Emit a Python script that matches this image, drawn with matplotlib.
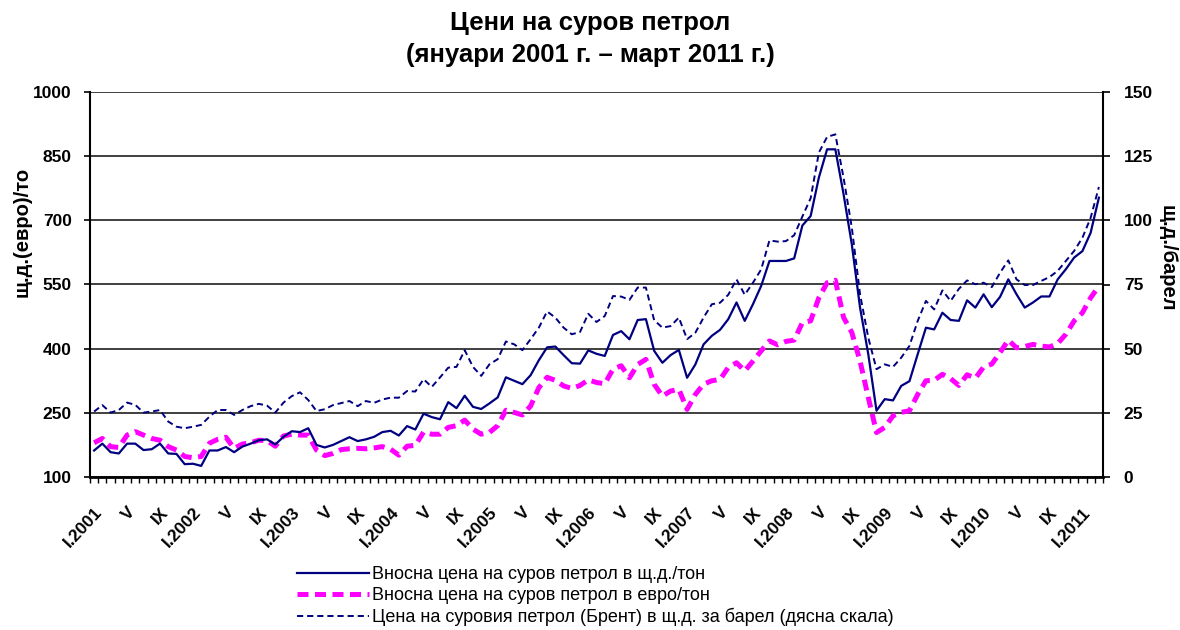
"""Crude oil prices, Jan 2001 - Mar 2011 (USD/t, EUR/t, Brent USD/bbl)."""
import matplotlib

matplotlib.use("Agg")

import matplotlib.pyplot as plt
import numpy as np

# import price of crude oil, USD per ton (monthly, Jan 2001 .. Mar 2011)
usd_ton = [
    162, 178, 158, 155, 178, 178, 163, 165, 178, 155, 154, 130,
    131, 126, 162, 162, 170, 158, 171, 178, 186, 188, 176, 194,
    207, 205, 214, 175, 169, 175, 184, 193, 184, 188, 194, 205,
    208, 197, 219, 211, 248, 240, 235, 275, 261, 290, 264, 259,
    272, 286, 333, 325, 317, 338, 373, 403, 405, 385, 366, 365,
    396, 388, 383, 432, 441, 422, 467, 469, 395, 367, 385, 397,
    332, 363, 410, 430, 444, 469, 508, 465, 504, 547, 605, 605,
    605, 611, 688, 710, 800, 866, 866, 761, 644, 496, 387, 255,
    282, 279, 313, 324, 387, 449, 445, 484, 467, 465, 513, 496,
    527, 497, 521, 562, 527, 496, 508, 522, 522, 562, 586, 613,
    628, 671, 753,
]

# import price of crude oil, EUR per ton
eur_ton = [
    180, 190, 171, 169, 198, 206, 198, 190, 186, 171, 163, 148,
    145, 148, 179, 188, 193, 167, 177, 180, 186, 185, 172, 196,
    200, 198, 198, 163, 150, 155, 164, 166, 167, 166, 168, 171,
    165, 151, 172, 174, 205, 200, 200, 216, 220, 233, 212, 200,
    204, 220, 256, 251, 245, 266, 309, 333, 326, 313, 307, 314,
    327, 321, 318, 352, 360, 332, 363, 375, 317, 289, 301, 305,
    258, 293, 317, 325, 328, 356, 367, 348, 371, 395, 418, 409,
    417, 420, 461, 465, 519, 554, 560, 473, 438, 371, 286, 204,
    216, 243, 251, 255, 293, 325, 326, 340, 330, 314, 339, 331,
    357, 364, 391, 420, 402, 405, 410, 406, 404, 412, 434, 465,
    484, 519, 546,
]

# Brent, USD per barrel (right scale)
brent_bbl = [
    25.5, 28.0, 25.1, 26.1, 29.0, 28.1, 25.1, 25.5, 26.1, 21.6, 19.6, 19.0,
    19.6, 20.3, 23.5, 26.1, 26.1, 24.2, 26.1, 27.6, 28.5, 27.8, 25.1, 29.0,
    31.5, 33.0, 30.0, 25.7, 26.4, 28.0, 28.8, 29.6, 27.6, 29.6, 28.9, 30.2,
    30.9, 30.9, 33.5, 33.3, 38.1, 35.1, 38.8, 42.6, 42.9, 49.4, 42.9, 39.4,
    43.9, 45.9, 52.8, 51.7, 49.4, 53.7, 58.2, 64.5, 62.1, 58.2, 55.6, 56.5,
    63.6, 60.4, 62.7, 70.5, 70.3, 69.0, 73.8, 73.8, 61.1, 58.2, 58.8, 62.1,
    53.7, 56.2, 62.1, 67.3, 67.9, 71.0, 77.0, 71.0, 75.7, 80.9, 92.2, 91.7,
    91.9, 94.2, 101.5, 108.6, 126.4, 132.5, 133.5, 116.6, 97.2, 71.2, 54.3, 42.0,
    43.9, 42.9, 46.5, 51.1, 60.8, 68.6, 65.3, 72.7, 68.6, 73.3, 76.6, 75.1,
    75.7, 74.0, 79.6, 84.4, 77.0, 74.8, 74.8, 76.4, 77.9, 80.3, 84.2, 88.1,
    93.2, 101.0, 113.0,
]

tick_labels = [
    "I.2001", "V", "IX", "I.2002", "V", "IX", "I.2003", "V", "IX",
    "I.2004", "V", "IX", "I.2005", "V", "IX", "I.2006", "V", "IX",
    "I.2007", "V", "IX", "I.2008", "V", "IX", "I.2009", "V", "IX",
    "I.2010", "V", "IX", "I.2011",
]
left_ticks = [100, 250, 400, 550, 700, 850, 1000]
right_ticks = [0, 25, 50, 75, 100, 125, 150]

legend_labels = [
    "Вносна цена на суров петрол в щ.д./тон",
    "Вносна цена на суров петрол в евро/тон",
    "Цена на суровия петрол (Брент) в щ.д. за барел (дясна скала)",
]

NAVY = "#000080"
MAGENTA = "#FF00FF"

plt.rcParams["font.family"] = ["Liberation Sans", "DejaVu Sans"]

fig = plt.figure(figsize=(11.8, 6.3), dpi=100)
ax = fig.add_axes([90 / 1180, 1 - 477 / 630, 1013 / 1180, 385 / 630])
ax2 = ax.twinx()

x = np.arange(len(usd_ton))

ax.set_axisbelow(True)
l1, = ax.plot(x, usd_ton, color=NAVY, linewidth=1.6, label=legend_labels[0], zorder=3)
l2, = ax.plot(x, eur_ton, color=MAGENTA, linewidth=3.6, linestyle=(0, (2.2, 1.3)),
              label=legend_labels[1], zorder=2)
l3, = ax2.plot(x, brent_bbl, color=NAVY, linewidth=1.4, linestyle=(0, (3.2, 2.0)),
               label=legend_labels[2], zorder=3)

ax.set_xlim(-0.5, len(usd_ton) - 0.5)
ax.set_ylim(100, 1000)
ax2.set_ylim(0, 150)
ax.set_yticks(left_ticks)
ax2.set_yticks(right_ticks)
ax.grid(axis="y", color="#303030", linewidth=1.3)

label_pos = np.arange(0, len(usd_ton), 4)[: len(tick_labels)]
ax.set_xticks(label_pos)
ax.set_xticklabels(tick_labels, rotation=47, ha="right", va="top",
                   rotation_mode="anchor", fontsize=12.5, fontweight="bold")
ax.set_xticks(np.arange(-0.5, len(usd_ton) + 0.5, 1), minor=True)
ax.tick_params(axis="x", which="major", length=0, pad=20)
ax.tick_params(axis="x", which="minor", length=4, width=1.0, direction="out")

for lab in ax.get_yticklabels() + ax2.get_yticklabels():
    lab.set_fontweight("bold")
ax.tick_params(axis="y", length=4, width=1.2, pad=9, labelsize=12.5)
ax2.tick_params(axis="y", length=5, width=1.2, pad=10, labelsize=12.5)

for a in (ax, ax2):
    a.spines["top"].set_visible(False)
ax.spines["right"].set_visible(False)
ax2.spines["left"].set_visible(False)
ax2.spines["bottom"].set_visible(False)
ax.spines["left"].set_linewidth(1.5)
ax.spines["bottom"].set_linewidth(2.0)
ax2.spines["right"].set_linewidth(1.5)

fig.text(22 / 1180, 1 - 232 / 630, "щ.д.(евро)/то", rotation=90, ha="center", va="center",
         fontsize=14.5, fontweight="bold")
fig.text(1167 / 1180, 1 - 258 / 630, "щ.д./барел", rotation=270, ha="center", va="center",
         fontsize=14.5, fontweight="bold")

fig.text(0.5, 1 - 39 / 630, "Цени на суров петрол\n(януари 2001 г. – март 2011 г.)",
         ha="center", va="center", fontsize=18.5, fontweight="bold", linespacing=1.4)

fig.legend(handles=[l1, l2, l3], loc="upper left", bbox_to_anchor=(297 / 1180, 1 - 566 / 630),
           frameon=False, prop={"size": 13}, handlelength=4.0,
           handletextpad=0.15, labelspacing=0.22, borderpad=0, borderaxespad=0)

fig.savefig("out.png", dpi=100)
plt.close(fig)
